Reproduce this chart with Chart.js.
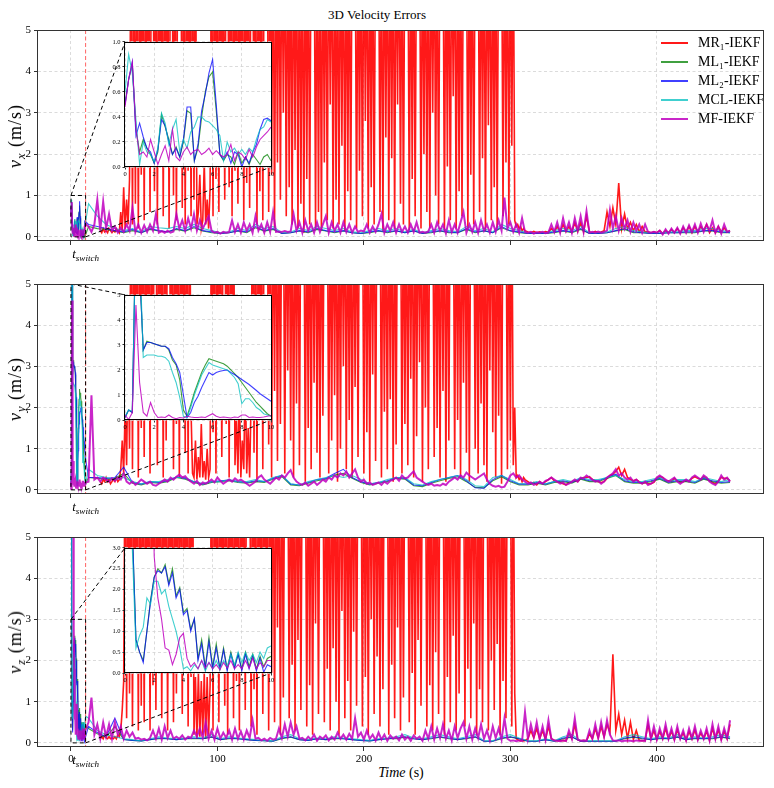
<!DOCTYPE html>
<html>
<head>
<meta charset="utf-8">
<title>3D Velocity Errors</title>
<script src="https://cdn.jsdelivr.net/npm/chart.js@4.4.1/dist/chart.umd.min.js"></script>
<style>
  body { margin: 0; background: #fff; }
  #wrap { position: relative; width: 774px; height: 788px; overflow: hidden;
          font-family: "Liberation Serif", "Times New Roman", serif; color: #000; }
  #wrap canvas { position: absolute; }
  .lbl { position: absolute; white-space: nowrap; line-height: 1; }
  .lbl sub { font-size: 70%; vertical-align: -0.3em; line-height: 0; }
  #title { left: 377px; top: 8px; font-size: 13px; transform: translateX(-50%); }
  #xlabel { left: 401px; top: 766px; font-size: 14px; transform: translateX(-50%); }
  .ylabel { left: 15px; font-size: 18px; letter-spacing: 1px; transform: translate(-50%, -50%) rotate(-90deg); }
  .tsw { font-size: 13px; font-style: italic; transform: translateX(-50%); }
  #legend { position: absolute; left: 661px; top: 33px; font-size: 14px; line-height: 1; }
  #legend .row { height: 19px; display: flex; align-items: center; white-space: nowrap; }
  #legend .swatch { width: 27px; height: 2px; margin-right: 10px; }
</style>
</head>
<body>
<div id="wrap">
  <div id="title" class="lbl">3D Velocity Errors</div>
  <div id="xlabel" class="lbl"><i>Time</i> (s)</div>
  <div id="legend"></div>
</div>
<script>
const FONT = '"Liberation Serif", "Times New Roman", serif';

// series, in legend order
const seriesNames = ['MR\u2081-IEKF', 'ML\u2081-IEKF', 'ML\u2082-IEKF', 'MCL-IEKF', 'MF-IEKF'];
const seriesColors = ['rgba(255,0,0,0.9)', 'rgba(0,128,0,0.75)', 'rgba(0,0,255,0.75)',
                      'rgba(0,191,191,0.75)', 'rgba(191,0,191,0.85)'];
const mainWidths = [1.6, 1.1, 1.1, 1.1, 2];
const axisNames = ['x', 'y', 'z'];

// tick labels
const xTicks = [0, 100, 200, 300, 400];
const yTicks = [0, 1, 2, 3, 4, 5];
const insetXTicks = [0, 2, 4, 6, 8, 10];
const insetYTicks1 = [0, 0.2, 0.4, 0.6, 0.8, 1.0];
const insetYTicks2 = [0, 1, 2, 3, 4, 5];
const insetYTicks3 = [0, 0.5, 1, 1.5, 2, 2.5, 3];
const tSwitch = 10;

// sampling of the arrays below (seconds)
const insetStep = 0.25;                 // inset arrays: t = 0 .. 10
const redStart = 20, redStep = 1;       // red: t = 20 .. 310
const redTailStart = 312, redTailStep = 2;
const mfStart = 12, mfStep = 2;         // MF main: t = 12 .. 450
const otherStart = 12, otherStep = 6;   // ML1 / ML2 / MCL main: t = 12 .. 450

// ---------- panel 1 (vx) ----------
const g1i = [0.5,0.7,0.82,0.3,0.12,0.22,0.15,0.1,0.03,0.12, 0.42,0.32,0.22,0.1,0.16,0.08,0.2,0.45,0.43,0.05,
  0.15,0.4,0.6,0.72,0.76,0.45,0.1,0.05,0.1,0.08, 0.02,0.12,0.03,0.08,0.02,0.1,0.06,0.02,0.08,0.1, 0.05];
const b1i = [0.5,0.7,0.84,0.25,0.35,0.24,0.15,0.12,0.03,0.14, 0.38,0.33,0.2,0.1,0.15,0.08,0.22,0.48,0.48,0.05,
  0.18,0.45,0.58,0.75,0.86,0.5,0.1,0.06,0.12,0.03, 0.12,0.1,0.0,0.08,0.03,0.12,0.18,0.3,0.38,0.39, 0.37];
const c1i = [0.6,0.9,0.75,0.38,0.02,0.2,0.12,0.1,0.04,0.15, 0.43,0.35,0.18,0.3,0.38,0.12,0.22,0.15,0.28,0.32,
  0.4,0.4,0.37,0.36,0.33,0.3,0.25,0.05,0.2,0.12, 0.15,0.1,0.14,0.1,0.15,0.12,0.22,0.3,0.32,0.38, 0.36];
const m1i = [0.48,0.7,0.84,0.3,0.1,0.12,0.08,0.22,0.12,0.02, 0.1,0.17,0.05,0.3,0.08,0.05,0.12,0.16,0.1,0.13,
  0.14,0.1,0.12,0.15,0.1,0.13,0.1,0.08,0.1,0.18, 0.05,0.12,0.1,0.06,0.14,0.08,0.16,0.22,0.25,0.28, 0.32];

const red1 = [
  0.15,0.1,0.2,0.12,0.15,0.1,0.2,0.15,0.1,0.15,
  0.12,0.2,0.15,0.1,0.6,0.15,1.2,0.2,0.9,0.3,
  1.4,8,0.3,8,0.8,8,0.2,8,1.5,8,
  0.4,8,2.2,8,0.6,8,8,1.1,8,0.3,
  8,2.5,8,0.5,8,1.8,8,0.2,8,8,
  1.0,8,0.4,8,8,8,0.7,8,0.3,8,
  1.6,8,0.5,8,0.9,8,0.3,0.6,1.5,0.2,
  0.4,1.8,0.3,0.9,0.2,1.2,8,0.5,8,1.4,
  8,0.6,8,1.7,8,0.9,8,8,1.2,8,
  0.5,8,1.6,8,0.8,8,2.0,8,0.4,8,
  1.3,8,0.7,8,8,1.9,8,0.3,8,1.1,
  8,0.4,8,8,8,0.6,8,1.5,8,0.2,
  8,1.8,8,0.9,8,3.0,8,0.5,8,1.2,
  8,0.3,8,2.1,8,0.2,8,0.8,8,0.1,
  8,1.4,8,0.3,8,8,8,0.2,8,0.6,
  8,0.15,8,1.8,8,0.4,8,3.2,8,0.2,
  8,0.9,8,0.3,8,2.2,8,0.15,8,1.1,
  8,0.4,8,8,8,0.2,8,1.6,8,0.5,
  8,2.8,8,0.2,8,1.2,8,0.3,8,8,
  8,0.6,8,0.15,8,2.4,8,0.4,8,1.9,
  8,0.2,8,3.2,8,0.8,8,0.3,8,8,
  8,0.15,8,1.4,8,0.5,8,8,8,0.2,
  8,2.0,8,0.6,8,0.2,8,3.0,8,1.0,
  8,0.3,8,8,8,0.15,8,1.7,8,0.4,
  8,3.4,8,0.2,8,1.1,8,0.5,8,8,
  8,0.2,8,1.5,8,0.3,8,8,8,0.6,
  8,1.9,8,0.15,8,2.7,8,0.4,8,1.2,
  8,0.2,8,8,8,0.5,8,1.8,8,0.3,
  8,2.2,8,0.4,0.25,0.3,0.2,0.25,0.15,0.2,
  0.15];
const red1Tail = [
  0.12,0.1,0.13,0.1,0.12,0.1,0.13,0.11,0.2,0.12,
  0.25,0.12,0.3,0.13,0.25,0.12,0.35,0.13,0.35,0.12,
  0.5,0.12,0.1,0.13,0.1,0.12,0.15,0.6,0.25,0.7,
  0.3,1.3,0.2,0.55,0.2,0.35,0.15,0.3,0.12,0.25,
  0.12,0.12,0.1,0.12,0.1,0.15,0.08,0.15,0.1,0.18,
  0.1,0.2,0.1,0.22,0.12,0.25,0.1,0.25,0.12,0.25,
  0.15,0.3,0.1,0.22,0.1,0.25,0.12,0.22,0.12,0.15];
const g1m = [
  0.25,0.2,0.18,0.14,0.1,0.15,0.1,0.18,0.14,0.12, 0.18,0.14,0.22,0.14,0.1,0.08,0.1,0.14,0.1,0.22,
  0.14,0.18,0.08,0.1,0.14,0.1,0.18,0.14,0.1,0.14, 0.1,0.08,0.1,0.14,0.1,0.14,0.1,0.14,0.08,0.1,
  0.14,0.1,0.1,0.18,0.1,0.14,0.1,0.22,0.14,0.1, 0.08,0.08,0.08,0.1,0.14,0.1,0.18,0.08,0.08,0.1,
  0.14,0.18,0.1,0.1,0.08,0.08,0.1,0.1,0.1,0.1, 0.14,0.14,0.1,0.1];
const b1m = [
  0.3,0.25,0.2,0.15,0.12,0.18,0.1,0.2,0.15,0.12, 0.2,0.15,0.25,0.15,0.12,0.08,0.1,0.15,0.12,0.25,
  0.15,0.2,0.08,0.1,0.15,0.12,0.2,0.15,0.12,0.15, 0.1,0.08,0.12,0.15,0.12,0.15,0.1,0.15,0.08,0.12,
  0.15,0.12,0.1,0.2,0.12,0.15,0.1,0.25,0.15,0.12, 0.08,0.08,0.08,0.12,0.15,0.12,0.2,0.08,0.08,0.1,
  0.15,0.2,0.12,0.1,0.08,0.08,0.1,0.1,0.12,0.12, 0.15,0.15,0.12,0.1];
const c1m = [
  0.8,0.5,0.3,0.2,0.15,0.2,0.12,0.25,0.22,0.2, 0.25,0.2,0.3,0.2,0.15,0.1,0.12,0.2,0.15,0.3,
  0.2,0.25,0.1,0.12,0.2,0.15,0.25,0.2,0.15,0.2, 0.12,0.1,0.15,0.2,0.15,0.2,0.12,0.18,0.1,0.15,
  0.2,0.15,0.12,0.25,0.15,0.2,0.12,0.3,0.2,0.15, 0.1,0.1,0.1,0.15,0.2,0.15,0.25,0.1,0.1,0.12,
  0.2,0.25,0.15,0.12,0.1,0.1,0.12,0.12,0.15,0.15, 0.2,0.2,0.15,0.12];
const m1m = [
  0.25,0.12,0.3,0.9,0.15,0.85,0.2,0.55,0.15,0.25,
  0.1,0.22,0.12,0.3,0.15,0.7,0.12,0.3,0.1,0.28,
  0.12,0.3,0.15,0.55,0.1,0.14,0.1,0.15,0.1,0.13,
  0.55,0.2,0.4,0.15,0.45,0.2,0.55,0.15,0.4,0.2,
  0.35,0.5,0.15,0.1,0.12,0.08,0.12,0.1,0.12,0.4,
  0.12,0.3,0.1,0.35,0.15,0.3,0.1,0.5,0.15,0.3,
  0.1,0.35,0.12,0.6,0.12,0.13,0.12,0.14,0.12,0.13,
  0.55,0.15,0.35,0.1,0.4,0.15,0.3,0.1,0.35,0.12,
  0.3,0.5,0.1,0.35,0.15,0.3,0.1,0.35,0.12,0.3,
  0.1,0.25,0.12,0.15,0.13,0.3,0.1,0.25,0.12,0.3,
  0.55,0.1,0.3,0.15,0.35,0.1,0.3,0.12,0.25,0.1,
  0.3,0.12,0.35,0.1,0.12,0.1,0.13,0.3,0.1,0.35,
  0.15,0.3,0.08,0.4,0.12,0.3,0.1,0.35,0.6,0.1,
  0.3,0.12,0.35,0.1,0.4,0.15,0.3,0.1,0.35,0.12,
  0.4,0.15,0.95,0.2,0.35,0.12,0.3,0.1,0.45,0.12,
  0.1,0.12,0.08,0.11,0.1,0.12,0.09,0.11,0.3,0.12,
  0.35,0.1,0.45,0.15,0.35,0.1,0.45,0.15,0.5,0.12,
  0.62,0.1,0.12,0.1,0.13,0.1,0.12,0.15,0.65,0.2,
  0.5,0.15,0.45,0.2,0.4,0.12,0.35,0.15,0.3,0.1,
  0.3,0.12,0.1,0.12,0.1,0.15,0.06,0.18,0.08,0.2,
  0.1,0.22,0.08,0.25,0.1,0.28,0.12,0.3,0.1,0.32,
  0.12,0.3,0.15,0.4,0.1,0.25,0.08,0.3,0.12,0.15];

// ---------- panel 2 (vy) ----------
const g2i = [0.1,0.4,0.3,8,6,2.8,3.15,3.1,3.05,3.0, 2.95,2.95,2.8,2.4,2.2,1.6,0.4,0.15,0.6,1.1,
  1.5,1.9,2.2,2.45,2.4,2.35,2.3,2.25,2.15,2.0, 1.85,1.7,1.5,1.3,1.1,0.9,0.7,0.55,0.4,0.25, 0.15];
const b2i = [0.1,0.4,0.3,8,6,2.8,3.1,3.1,3.05,3.0, 2.95,2.95,2.85,2.5,2.25,1.9,1.0,0.1,0.3,0.7,
  0.95,1.3,1.6,1.9,1.8,1.9,1.95,1.98,2.0,1.9, 1.82,1.72,1.62,1.52,1.42,1.3,1.18,1.05,0.95,0.85, 0.75];
const c2i = [0.15,0.4,0.35,8,7,2.5,2.6,2.6,2.6,2.55, 2.55,2.5,2.35,1.9,1.5,0.9,0.15,0.1,0.5,1.0,
  1.4,1.8,2.05,2.3,2.2,2.15,2.1,2.05,2.0,1.85, 1.7,1.45,0.65,0.85,0.85,0.7,0.5,0.4,0.25,0.2, 0.15];
const m2i = [0.2,0.02,0.3,4.6,1.5,0.3,0.15,0.7,0.3,0.1, 0.12,0.1,0.2,0.1,0.05,0.1,0.08,0.15,0.12,0.1,
  0.1,0.12,0.1,0.18,0.25,0.15,0.1,0.12,0.1,0.08, 0.12,0.1,0.2,0.2,0.1,0.12,0.1,0.1,0.12,0.15, 0.18];

const red2 = [
  0.2,0.15,0.25,0.2,0.3,0.2,0.25,0.15,0.2,0.25,
  0.2,0.3,0.2,0.25,0.5,1.2,0.4,2.0,0.6,3.5,
  1.0,8,0.5,8,2.5,8,0.3,8,1.5,8,
  0.8,8,3.0,8,0.4,8,1.8,8,8,0.6,
  8,2.2,8,0.3,8,1.2,8,8,3.1,8,
  0.5,8,1.6,8,0.3,8,2.6,8,0.9,8,
  0.4,8,1.9,0.4,0.3,1.2,0.25,0.8,0.3,1.6,
  0.3,0.7,0.25,1.0,0.3,0.5,8,1.4,8,0.4,
  8,2.4,8,0.8,8,8,1.6,8,0.3,8,
  2.8,8,0.6,1.8,0.4,2.5,0.3,1.2,0.5,3.0,
  0.4,1.5,0.3,2.2,8,0.9,8,0.2,8,2.0,
  8,0.5,8,8,8,1.1,8,0.3,8,2.4,
  8,0.7,8,1.6,8,8,0.4,8,2.9,8,
  1.2,8,0.3,8,2.1,8,0.6,8,8,8,
  0.2,8,1.5,8,0.5,8,2.6,8,0.9,8,
  0.3,8,1.8,8,8,8,0.4,8,1.2,8,
  2.3,8,0.2,8,1.0,8,3.0,8,0.5,8,
  1.7,8,0.3,8,2.5,8,0.8,8,8,8,
  0.4,8,1.4,8,0.2,8,2.8,8,0.7,8,
  8,8,0.3,8,1.9,8,0.5,8,2.2,8,
  0.2,8,1.1,8,8,8,0.4,8,1.6,8,
  0.6,8,2.7,8,0.3,8,1.3,8,3.1,8,
  0.2,8,2.0,8,0.5,8,8,8,0.8,8,
  1.5,8,0.3,8,2.4,8,0.2,8,1.2,8,
  8,8,0.5,8,1.7,8,0.3,8,2.6,8,
  0.9,8,0.2,8,8,8,1.0,8,0.4,8,
  2.1,8,0.6,8,0.2,8,2.9,8,1.4,8,
  0.3,8,1.8,8,0.15,8,8,8,0.5,8,
  1.2,8,0.6,2.0,0.3,0.35,0.25,0.3,0.2,0.3,
  0.25];
const red2Tail = [
  0.2,0.15,0.18,0.12,0.2,0.15,0.2,0.25,0.3,0.22,
  0.2,0.18,0.15,0.12,0.18,0.2,0.22,0.2,0.28,0.3,
  0.3,0.32,0.25,0.22,0.2,0.18,0.2,0.28,0.35,0.38,
  0.45,0.55,0.35,0.5,0.3,0.25,0.22,0.25,0.2,0.15,
  0.18,0.15,0.15,0.18,0.28,0.32,0.3,0.22,0.22,0.2,
  0.28,0.22,0.18,0.2,0.22,0.22,0.28,0.32,0.28,0.25,
  0.32,0.28,0.22,0.18,0.15,0.22,0.3,0.28,0.28,0.22];
const g2m = [
  0.3,0.28,0.26,0.28,0.4,0.16,0.12,0.18,0.16,0.2, 0.3,0.26,0.18,0.12,0.18,0.2,0.22,0.18,0.16,0.2,
  0.18,0.26,0.32,0.12,0.1,0.16,0.22,0.26,0.36,0.4, 0.28,0.18,0.12,0.16,0.2,0.28,0.26,0.1,0.08,0.16,
  0.22,0.28,0.32,0.2,0.06,0.05,0.22,0.32,0.2,0.12, 0.12,0.16,0.12,0.18,0.2,0.16,0.26,0.2,0.2,0.28,
  0.35,0.2,0.16,0.16,0.2,0.26,0.16,0.2,0.2,0.16, 0.26,0.2,0.16,0.18];
const b2m = [
  0.3,0.3,0.28,0.3,0.55,0.18,0.14,0.2,0.18,0.22, 0.32,0.28,0.2,0.14,0.2,0.22,0.24,0.2,0.18,0.22,
  0.2,0.28,0.35,0.14,0.12,0.18,0.25,0.28,0.4,0.5, 0.3,0.2,0.14,0.18,0.22,0.3,0.28,0.12,0.1,0.18,
  0.25,0.3,0.35,0.22,0.05,0.04,0.25,0.35,0.22,0.14, 0.14,0.18,0.14,0.2,0.22,0.18,0.28,0.22,0.22,0.3,
  0.38,0.22,0.18,0.18,0.22,0.28,0.18,0.22,0.22,0.18, 0.28,0.22,0.18,0.2];
const c2m = [
  0.5,0.35,0.3,0.25,0.3,0.2,0.15,0.2,0.2,0.25, 0.3,0.3,0.2,0.15,0.2,0.2,0.25,0.2,0.2,0.25,
  0.2,0.3,0.35,0.15,0.12,0.2,0.25,0.3,0.35,0.3, 0.35,0.25,0.15,0.18,0.25,0.3,0.3,0.15,0.12,0.2,
  0.25,0.3,0.35,0.25,0.1,0.08,0.3,0.35,0.25,0.15, 0.15,0.2,0.15,0.2,0.25,0.2,0.3,0.25,0.25,0.3,
  0.35,0.25,0.2,0.2,0.25,0.3,0.2,0.25,0.25,0.2, 0.3,0.25,0.2,0.25];
const m2m = [
  0.2,2.3,0.25,0.3,0.2,0.3,0.25,0.2,0.28,0.22,
  0.3,0.25,0.4,0.2,0.15,0.2,0.12,0.18,0.25,0.2,
  0.15,0.2,0.12,0.1,0.15,0.2,0.25,0.2,0.3,0.25,
  0.32,0.37,0.3,0.33,0.25,0.2,0.15,0.22,0.12,0.18,
  0.15,0.2,0.25,0.18,0.3,0.22,0.15,0.2,0.25,0.2,
  0.28,0.22,0.25,0.2,0.15,0.1,0.15,0.2,0.3,0.35,
  0.25,0.2,0.15,0.22,0.3,0.25,0.35,0.3,0.4,0.48,
  0.3,0.2,0.15,0.12,0.18,0.1,0.15,0.2,0.12,0.18,
  0.25,0.2,0.3,0.25,0.35,0.3,0.4,0.35,0.45,0.3,
  0.4,0.5,0.3,0.2,0.25,0.15,0.18,0.12,0.15,0.18,
  0.12,0.2,0.15,0.22,0.25,0.3,0.22,0.35,0.28,0.3,
  0.38,0.45,0.3,0.25,0.2,0.15,0.12,0.15,0.1,0.12,
  0.1,0.15,0.12,0.2,0.25,0.3,0.25,0.35,0.3,0.42,
  0.35,0.3,0.25,0.3,0.35,0.4,0.25,0.15,0.1,0.08,
  0.1,0.06,0.08,0.2,0.35,0.4,0.3,0.35,0.25,0.2,
  0.15,0.18,0.12,0.15,0.2,0.15,0.22,0.25,0.3,0.25,
  0.2,0.15,0.18,0.12,0.15,0.2,0.25,0.2,0.3,0.28,
  0.35,0.3,0.25,0.2,0.22,0.15,0.2,0.3,0.35,0.4,
  0.5,0.35,0.4,0.3,0.25,0.3,0.2,0.25,0.18,0.15,
  0.2,0.12,0.15,0.2,0.3,0.35,0.3,0.25,0.2,0.25,
  0.3,0.2,0.15,0.2,0.25,0.2,0.3,0.35,0.3,0.25,
  0.35,0.3,0.2,0.15,0.12,0.2,0.35,0.25,0.3,0.2];

// ---------- panel 3 (vz) ----------
const g3i = [8,8,3.5,0.8,0.5,0.3,1.0,1.75,2.3,2.5, 2.4,2.6,2.15,2.5,1.85,2.05,1.45,1.55,1.05,1.3,
  0.35,0.8,0.15,0.85,0.15,0.7,0.1,0.6,0.1,0.5, 0.15,0.45,0.1,0.5,0.15,0.45,0.1,0.4,0.15,0.35, 0.4];
const b3i = [8,8,3.5,0.8,0.5,0.25,1.0,1.7,2.3,2.45, 2.4,2.55,2.1,2.4,1.8,2.0,1.4,1.5,1.0,1.3,
  0.3,0.7,0.1,0.75,0.1,0.6,0.1,0.55,0.05,0.45, 0.1,0.45,0.05,0.45,0.1,0.4,0.05,0.35,0.02,0.2, 0.15];
const c3i = [8,8,3.0,0.6,0.9,1.1,1.8,1.65,2.2,2.2, 1.9,2.0,1.6,1.3,1.0,0.6,0.1,0.15,0.05,0.2,
  0.1,0.3,0.05,0.25,0.1,0.3,0.1,0.3,0.15,0.45, 0.2,0.5,0.25,0.5,0.3,0.45,0.25,0.5,0.35,0.6, 0.65];
const m3i = [8,8,8,8,8,8,8,8,2.8,1.8, 1.3,0.6,0.55,0.2,0.45,0.85,0.95,0.35,0.15,0.25,
  0.1,0.3,0.12,0.25,0.1,0.2,0.08,0.25,0.12,0.3, 0.1,0.2,0.1,0.3,0.12,0.35,0.1,0.25,0.15,0.3, 0.3];

const red3 = [
  0.1,0.15,0.1,0.2,0.12,0.1,0.15,0.1,0.12,0.1,
  0.15,0.1,0.2,0.15,0.3,0.8,1.5,8,0.6,8,
  1.2,8,0.4,8,2.0,8,0.3,8,0.9,8,
  0.5,8,2.6,8,0.3,8,1.4,8,0.8,8,
  3.0,8,0.6,8,1.8,8,0.3,8,2.4,8,
  0.5,8,1.2,8,3.4,8,0.7,8,2.0,8,
  0.4,8,1.6,8,0.2,1.6,0.1,1.7,0.15,1.5,
  0.2,1.7,0.1,1.6,0.2,1.4,8,0.3,8,1.8,
  8,0.5,8,2.6,8,0.9,8,0.2,8,3.0,
  8,0.6,8,1.5,8,0.3,8,2.2,8,0.8,
  8,8,8,0.4,8,1.3,8,0.2,8,2.4,
  8,0.7,8,3.1,8,0.3,8,1.7,8,0.5,
  8,2.8,8,0.2,8,1.1,8,8,8,0.6,
  8,1.9,8,0.3,8,2.5,8,0.8,8,8,
  8,0.4,8,1.4,8,0.2,8,2.9,8,0.7,
  8,8,8,0.5,8,1.8,8,0.3,8,2.3,
  8,1.0,8,0.2,8,3.2,8,0.6,8,1.5,
  8,0.3,8,2.7,8,0.9,8,8,8,0.4,
  8,1.6,8,0.2,8,3.0,8,0.7,8,2.1,
  8,0.4,8,1.3,8,8,8,0.2,8,1.9,
  8,0.6,8,2.8,8,0.3,8,1.1,8,8,
  8,0.5,8,1.7,8,0.2,8,2.5,8,0.9,
  8,8,8,0.4,8,1.4,8,0.3,8,2.2,
  8,0.7,8,8,8,0.2,8,1.6,8,0.5,
  8,2.6,8,0.3,8,1.2,8,8,8,0.4,
  8,1.8,8,0.6,8,2.9,8,0.2,8,1.3,
  8,0.5,8,8,8,0.3,8,2.0,8,0.8,
  8,2.4,8,0.2,8,1.5,8,0.6,8,8,
  8,0.4,8,1.2,0.1,0.08,0.06,0.05,0.06,0.05,
  0.06];
const red3Tail = [
  0.1,0.3,0.12,0.35,0.1,0.3,0.08,0.4,0.1,0.06,
  0.05,0.05,0.06,0.05,0.22,0.1,0.45,0.08,0.05,0.06,
  0.05,0.22,0.1,0.35,0.12,0.4,0.15,0.45,0.25,2.15,
  0.3,0.7,0.2,0.55,0.1,0.5,0.08,0.3,0.06,0.05,
  0.05,0.45,0.1,0.3,0.08,0.28,0.1,0.35,0.1,0.28,
  0.08,0.32,0.1,0.24,0.06,0.28,0.1,0.32,0.08,0.24,
  0.1,0.28,0.06,0.35,0.1,0.32,0.08,0.28,0.1,0.45];
const g3m = [
  0.35,0.22,0.14,0.4,0.08,0.06,0.05,0.08,0.1,0.1, 0.08,0.1,0.1,0.1,0.14,0.08,0.1,0.1,0.08,0.06,
  0.05,0.04,0.1,0.14,0.08,0.06,0.1,0.08,0.1,0.1, 0.08,0.06,0.05,0.08,0.1,0.1,0.14,0.1,0.08,0.1,
  0.14,0.1,0.08,0.1,0.14,0.04,0.04,0.1,0.14,0.1, 0.04,0.04,0.08,0.04,0.1,0.14,0.04,0.04,0.04,0.04,
  0.04,0.1,0.14,0.1,0.08,0.1,0.1,0.14,0.08,0.1, 0.1,0.1,0.14,0.1];
const b3m = [
  0.4,0.25,0.15,0.6,0.08,0.06,0.05,0.08,0.12,0.1, 0.08,0.1,0.12,0.1,0.15,0.08,0.12,0.1,0.08,0.06,
  0.05,0.04,0.12,0.15,0.08,0.06,0.1,0.08,0.12,0.1, 0.08,0.06,0.05,0.08,0.1,0.12,0.15,0.1,0.08,0.12,
  0.15,0.12,0.08,0.12,0.15,0.04,0.04,0.12,0.15,0.1, 0.04,0.04,0.08,0.04,0.12,0.15,0.04,0.04,0.04,0.04,
  0.04,0.12,0.15,0.12,0.08,0.12,0.1,0.15,0.08,0.12, 0.1,0.12,0.15,0.12];
const c3m = [
  0.6,0.3,0.2,0.15,0.1,0.08,0.05,0.1,0.15,0.12, 0.1,0.12,0.15,0.12,0.2,0.1,0.15,0.12,0.1,0.08,
  0.06,0.05,0.15,0.2,0.1,0.08,0.12,0.1,0.15,0.12, 0.1,0.08,0.06,0.1,0.12,0.15,0.2,0.12,0.1,0.15,
  0.2,0.15,0.1,0.15,0.2,0.05,0.05,0.15,0.2,0.12, 0.05,0.05,0.1,0.05,0.15,0.2,0.05,0.05,0.05,0.05,
  0.05,0.15,0.2,0.15,0.1,0.15,0.12,0.2,0.1,0.15, 0.12,0.15,0.2,0.15];
const m3m = [
  0.5,1.1,0.2,0.45,0.1,0.5,0.15,0.45,0.1,0.5,
  0.2,0.4,0.1,0.3,0.15,0.25,0.1,0.12,0.08,0.1,
  0.06,0.12,0.3,0.1,0.35,0.08,0.4,0.12,0.3,0.1,
  0.15,0.1,0.18,0.08,0.15,0.12,0.3,0.15,0.35,0.12,
  0.5,0.1,0.3,0.08,0.35,0.1,0.25,0.12,0.3,0.08,
  0.35,0.1,0.28,0.08,0.3,0.12,0.55,0.1,0.12,0.06,
  0.1,0.05,0.12,0.08,0.1,0.35,0.12,0.45,0.15,0.5,
  0.2,0.4,0.1,0.12,0.06,0.15,0.08,0.2,0.05,0.15,
  0.1,0.18,0.06,0.15,0.08,0.25,0.1,0.2,0.08,0.22,
  0.1,0.6,0.15,0.25,0.08,0.3,0.1,0.2,0.06,0.25,
  0.08,0.2,0.05,0.18,0.1,0.15,0.06,0.2,0.08,0.15,
  0.05,0.18,0.1,0.15,0.05,0.3,0.1,0.4,0.08,0.35,
  0.12,0.45,0.1,0.3,0.06,0.4,0.12,0.35,0.5,0.1,
  0.4,0.08,0.35,0.12,0.45,0.1,0.3,0.06,0.4,0.12,
  0.35,0.08,0.6,0.1,0.05,0.06,0.04,0.06,0.05,0.75,
  0.1,0.45,0.15,0.5,0.1,0.4,0.08,0.55,0.1,0.06,
  0.05,0.04,0.06,0.05,0.3,0.1,0.6,0.08,0.05,0.06,
  0.05,0.3,0.1,0.45,0.12,0.5,0.15,0.55,0.2,0.06,
  0.05,0.06,0.04,0.05,0.06,0.05,0.04,0.06,0.05,0.06,
  0.05,0.55,0.1,0.4,0.08,0.35,0.12,0.45,0.1,0.35,
  0.08,0.4,0.1,0.3,0.06,0.35,0.12,0.4,0.08,0.3,
  0.1,0.35,0.06,0.45,0.1,0.4,0.08,0.35,0.12,0.55];

// ---------- layout of the three panels ----------
const panels = [
  { top: 30, bottom: 241, box: [125, 41, 271, 167], insetMax: 1, insetTicks: insetYTicks1,
    fmt: v => v.toFixed(1), red: red1, redTail: red1Tail,
    ins: [g1i, b1i, c1i, m1i], main: [g1m, b1m, c1m, m1m] },
  { top: 284, bottom: 494, box: [125, 294, 271, 420], insetMax: 5, insetTicks: insetYTicks2,
    fmt: v => String(v), red: red2, redTail: red2Tail,
    ins: [g2i, b2i, c2i, m2i], main: [g2m, b2m, c2m, m2m] },
  { top: 537, bottom: 747, box: [125, 547, 271, 673], insetMax: 3, insetTicks: insetYTicks3,
    fmt: v => v.toFixed(1), red: red3, redTail: red3Tail,
    ins: [g3i, b3i, c3i, m3i], main: [g3m, b3m, c3m, m3m] }
];

function pts(t0, dt, vals) {
  return vals.map((v, i) => ({ x: +(t0 + i * dt).toFixed(2), y: v }));
}

const wrap = document.getElementById('wrap');
function addCanvas(left, top, w, h) {
  const cv = document.createElement('canvas');
  cv.width = w; cv.height = h;
  cv.style.left = left + 'px'; cv.style.top = top + 'px';
  cv.style.width = w + 'px'; cv.style.height = h + 'px';
  wrap.appendChild(cv);
  return cv;
}

function framePlugin(fillWhite, color) {
  return {
    id: 'frame',
    beforeDraw(chart) {
      if (!fillWhite) return;
      const a = chart.chartArea, ctx = chart.ctx;
      ctx.save(); ctx.fillStyle = '#fff';
      ctx.fillRect(a.left, a.top, a.right - a.left, a.bottom - a.top);
      ctx.restore();
    },
    afterDraw(chart) {
      const a = chart.chartArea, ctx = chart.ctx;
      ctx.save(); ctx.strokeStyle = color; ctx.lineWidth = 1; ctx.setLineDash([]);
      ctx.strokeRect(Math.round(a.left) - 0.5, Math.round(a.top) + 0.5,
                     Math.round(a.right - a.left) + 1, Math.round(a.bottom - a.top) - 1);
      ctx.restore();
    }
  };
}

function gridOpts(tick) {
  return { color: '#d2d2d2', lineWidth: 0.8, tickLength: tick, tickColor: '#333', tickWidth: 1 };
}

// zoom box, t_switch marker and connectors to the inset
function linksPlugin(p, inset, insCv, mainCv) {
  return {
    id: 'links',
    afterDatasetsDraw(chart) {
      const ctx = chart.ctx, xs = chart.scales.x, ys = chart.scales.y, a = chart.chartArea;
      const xa = xs.getPixelForValue(0), xb = xs.getPixelForValue(tSwitch);
      const y0 = ys.getPixelForValue(0), y1 = ys.getPixelForValue(p.insetMax);
      const ox = parseFloat(insCv.style.left) - parseFloat(mainCv.style.left);
      const oy = parseFloat(insCv.style.top) - parseFloat(mainCv.style.top);
      const ia = inset.chartArea;
      ctx.save();
      ctx.beginPath(); ctx.rect(a.left, a.top, a.right - a.left, a.bottom - a.top); ctx.clip();
      ctx.lineWidth = 1;
      ctx.strokeStyle = 'rgba(255,60,60,0.8)'; ctx.setLineDash([4, 2.5]);
      ctx.beginPath(); ctx.moveTo(xb, a.top); ctx.lineTo(xb, a.bottom); ctx.stroke();
      ctx.strokeStyle = '#000'; ctx.setLineDash([4, 3]);
      ctx.strokeRect(xa, y1, xb - xa, y0 - y1);
      ctx.beginPath();
      ctx.moveTo(xa, y1); ctx.lineTo(ia.left + ox, ia.top + oy);
      ctx.moveTo(xb, y0); ctx.lineTo(ia.right + ox, ia.bottom + oy);
      ctx.stroke();
      ctx.restore();
    }
  };
}

const charts = [];
panels.forEach((p, k) => {
  const mainCv = addCanvas(0, p.top - 10, 774, p.bottom - p.top + 34);
  const insCv = addCanvas(p.box[0] - 22, p.box[1] - 5, p.box[2] - p.box[0] + 28, p.box[3] - p.box[1] + 19);

  const inset = new Chart(insCv, {
    type: 'line',
    data: {
      datasets: p.ins.map((vals, j) => ({
        label: seriesNames[j + 1], data: pts(0, insetStep, vals),
        borderColor: seriesColors[j + 1], borderWidth: 1.1, pointRadius: 0, order: 4 - j
      }))
    },
    options: {
      animation: false, responsive: false, devicePixelRatio: 1, events: [],
      layout: { padding: { top: 5, right: 6, left: 0, bottom: 0 } },
      plugins: { legend: { display: false }, tooltip: { enabled: false } },
      scales: {
        x: { type: 'linear', min: 0, max: 10,
             afterBuildTicks: s => { s.ticks = insetXTicks.map(v => ({ value: v })); },
             afterFit: s => { s.height = 14; },
             ticks: { font: { family: FONT, size: 6.5 }, color: '#000', padding: 1, maxRotation: 0, autoSkip: false },
             grid: gridOpts(2.5), border: { display: false, dash: [3, 2.5] } },
        y: { type: 'linear', min: 0, max: p.insetMax,
             afterBuildTicks: s => { s.ticks = p.insetTicks.map(v => ({ value: v })); },
             afterFit: s => { s.width = 22; },
             ticks: { font: { family: FONT, size: 6.5 }, color: '#000', padding: 2, autoSkip: false, callback: p.fmt },
             grid: gridOpts(2.5), border: { display: false, dash: [3, 2.5] } }
      }
    },
    plugins: [framePlugin(true, '#000')]
  });

  const series = [
    pts(redStart, redStep, p.red).concat(pts(redTailStart, redTailStep, p.redTail)),
    pts(0, insetStep, p.ins[0]).concat(pts(otherStart, otherStep, p.main[0])),
    pts(0, insetStep, p.ins[1]).concat(pts(otherStart, otherStep, p.main[1])),
    pts(0, insetStep, p.ins[2]).concat(pts(otherStart, otherStep, p.main[2])),
    pts(0, insetStep, p.ins[3]).concat(pts(mfStart, mfStep, p.main[3]))
  ];

  const main = new Chart(mainCv, {
    type: 'line',
    data: {
      datasets: series.map((d, j) => ({
        label: seriesNames[j], data: d, borderColor: seriesColors[j],
        borderWidth: mainWidths[j], pointRadius: 0, order: 5 - j
      }))
    },
    options: {
      animation: false, responsive: false, devicePixelRatio: 1, events: [],
      layout: { padding: { top: 10, right: 11, left: 0, bottom: 0 } },
      plugins: { legend: { display: false }, tooltip: { enabled: false } },
      scales: {
        x: { type: 'linear', min: -22.5, max: 472.5,
             afterBuildTicks: s => { s.ticks = xTicks.map(v => ({ value: v })); },
             afterFit: s => { s.height = 24; },
             ticks: { display: k === 2, font: { family: FONT, size: 11 }, color: '#000', padding: 2,
                      maxRotation: 0, autoSkip: false, callback: v => String(v) },
             grid: gridOpts(4), border: { display: false, dash: [3, 2.5] } },
        y: { type: 'linear', min: -0.1, max: 5,
             afterBuildTicks: s => { s.ticks = yTicks.map(v => ({ value: v })); },
             afterFit: s => { s.width = 38; },
             ticks: { font: { family: FONT, size: 11 }, color: '#000', padding: 3, autoSkip: false,
                      callback: v => String(v) },
             grid: gridOpts(4), border: { display: false, dash: [3, 2.5] } }
      }
    },
    plugins: [framePlugin(false, '#333'), linksPlugin(p, inset, insCv, mainCv)]
  });
  charts.push(main);

  // axis title and t_switch tick label
  const yl = document.createElement('div');
  yl.className = 'lbl ylabel';
  yl.style.top = ((p.top + p.bottom) / 2) + 'px';
  yl.innerHTML = '<i>v</i><sub><i>' + axisNames[k] + '</i></sub> (m/s)';
  wrap.appendChild(yl);

  const ts = document.createElement('div');
  ts.className = 'lbl tsw';
  ts.style.left = main.scales.x.getPixelForValue(tSwitch) + 'px';
  ts.style.top = (p.bottom + 6) + 'px';
  ts.innerHTML = 't<sub>switch</sub>';
  wrap.appendChild(ts);
});

// legend built from the first panel's datasets
const legend = document.getElementById('legend');
charts[0].data.datasets.forEach(ds => {
  const row = document.createElement('div');
  row.className = 'row';
  row.innerHTML = '<span class="swatch" style="background:' + ds.borderColor + '"></span><span>' + ds.label + '</span>';
  legend.appendChild(row);
});
wrap.appendChild(legend);
</script>
</body>
</html>
